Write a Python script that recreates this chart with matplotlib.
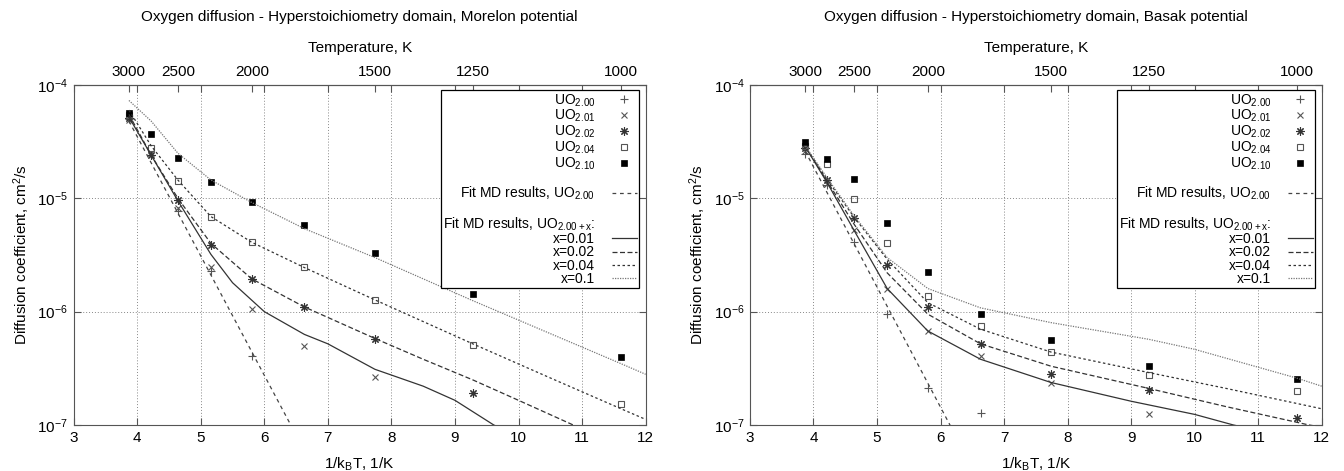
import numpy as np
import matplotlib
matplotlib.use("Agg")
from matplotlib import pyplot as plt
from matplotlib.lines import Line2D

plt.rcParams['font.family'] = ['Liberation Sans', 'DejaVu Sans']
plt.rcParams['mathtext.default'] = 'regular'
plt.rcParams['axes.unicode_minus'] = False

kB = 8.617e-5  # eV/K

# temperatures of the MD points, K
temps = np.array([3000, 2750, 2500, 2250, 2000, 1750, 1500, 1250, 1000])
nan = np.nan

# Morelon potential, D in cm2/s
m_uo200 = [5.0e-5, 2.4e-5, 7.8e-6, 2.3e-6, 4.1e-7, nan, nan, nan, nan]
m_uo201 = [4.9e-5, 2.5e-5, 8.2e-6, 2.5e-6, 1.05e-6, 5.0e-7, 2.65e-7, nan, nan]
m_uo202 = [5.1e-5, 2.4e-5, 9.7e-6, 3.9e-6, 1.95e-6, 1.1e-6, 5.7e-7, 1.9e-7, nan]
m_uo204 = [5.4e-5, 2.8e-5, 1.42e-5, 6.9e-6, 4.1e-6, 2.46e-6, 1.27e-6, 5.1e-7, 1.54e-7]
m_uo210 = [5.7e-5, 3.7e-5, 2.25e-5, 1.4e-5, 9.2e-6, 5.8e-6, 3.3e-6, 1.42e-6, 4.0e-7]

# Morelon fits (x = 1/kBT, D)
m_fit00_x = [3.87, 6.6]
m_fit00_d = [4.8e-5, 6.4e-8]
m_fit01_x = [3.87, 4.22, 4.64, 5.16, 5.5, 6.0, 6.63, 7.0, 7.74, 8.5, 9.0, 9.61, 10.0]
m_fit01_d = [5.2e-5, 2.4e-5, 9.5e-6, 3.2e-6, 1.8e-6, 1.0e-6, 6.3e-7, 5.2e-7, 3.1e-7, 2.2e-7, 1.65e-7, 1.0e-7, 8.0e-8]
m_fit02_x = [3.87, 4.22, 4.64, 5.16, 5.8, 6.63, 7.74, 8.5, 9.28, 10.0, 10.86, 11.2]
m_fit02_d = [5.5e-5, 2.4e-5, 1.0e-5, 4.0e-6, 1.95e-6, 1.1e-6, 5.8e-7, 3.8e-7, 2.5e-7, 1.65e-7, 1.0e-7, 8.2e-8]
m_fit04_x = [3.87, 4.22, 4.64, 5.16, 5.8, 6.63, 7.74, 9.28, 10.5, 11.6, 12.0]
m_fit04_d = [6.0e-5, 2.9e-5, 1.45e-5, 6.9e-6, 4.1e-6, 2.45e-6, 1.27e-6, 5.2e-7, 2.6e-7, 1.4e-7, 1.12e-7]
m_fit10_x = [3.87, 4.22, 4.64, 5.16, 5.8, 6.63, 7.74, 9.28, 10.5, 11.6, 12.0]
m_fit10_d = [7.3e-5, 4.8e-5, 2.5e-5, 1.45e-5, 9.2e-6, 5.4e-6, 3.0e-6, 1.25e-6, 6.4e-7, 3.5e-7, 2.8e-7]

# Basak potential
b_uo200 = [2.46e-5, 1.3e-5, 4.1e-6, 9.6e-7, 2.1e-7, 1.27e-7, nan, nan, nan]
b_uo201 = [2.6e-5, 1.35e-5, 5.2e-6, 1.6e-6, 6.75e-7, 4.06e-7, 2.37e-7, 1.26e-7, nan]
b_uo202 = [2.76e-5, 1.45e-5, 6.75e-6, 2.6e-6, 1.1e-6, 5.15e-7, 2.84e-7, 2.02e-7, 1.16e-7]
b_uo204 = [2.9e-5, 2.0e-5, 9.9e-6, 4.0e-6, 1.37e-6, 7.4e-7, 4.44e-7, 2.74e-7, 2.0e-7]
b_uo210 = [3.12e-5, 2.21e-5, 1.48e-5, 6.0e-6, 2.26e-6, 9.6e-7, 5.6e-7, 3.32e-7, 2.56e-7]

b_fit00_x = [3.87, 6.3]
b_fit00_d = [2.6e-5, 6.9e-8]
b_fit01_x = [3.87, 4.22, 4.64, 5.16, 5.8, 6.63, 7.74, 9.0, 10.0, 10.61, 11.0]
b_fit01_d = [2.86e-5, 1.36e-5, 5.2e-6, 1.6e-6, 6.75e-7, 3.8e-7, 2.37e-7, 1.62e-7, 1.24e-7, 1.0e-7, 9.0e-8]
b_fit02_x = [3.87, 4.22, 4.64, 5.16, 5.8, 6.63, 7.74, 9.28, 10.5, 11.8, 12.0]
b_fit02_d = [2.86e-5, 1.4e-5, 5.9e-6, 2.2e-6, 9.5e-7, 5.2e-7, 3.3e-7, 2.1e-7, 1.45e-7, 1.0e-7, 9.6e-8]
b_fit04_x = [3.87, 4.22, 4.64, 5.16, 5.8, 6.63, 7.74, 9.28, 10.5, 12.0]
b_fit04_d = [2.86e-5, 1.45e-5, 6.8e-6, 2.9e-6, 1.2e-6, 7.0e-7, 4.4e-7, 2.9e-7, 2.1e-7, 1.39e-7]
b_fit10_x = [3.87, 4.22, 4.64, 5.16, 5.8, 6.63, 7.74, 9.28, 10.0, 11.6, 12.0]
b_fit10_d = [2.9e-5, 1.5e-5, 7.0e-6, 3.0e-6, 1.6e-6, 1.08e-6, 8.0e-7, 5.7e-7, 4.65e-7, 2.6e-7, 2.2e-7]

top_temps = [3000, 2500, 2000, 1500, 1250, 1000]
comp_labels = ['UO$_{2.00}$', 'UO$_{2.01}$', 'UO$_{2.02}$', 'UO$_{2.04}$', 'UO$_{2.10}$']
x_labels = ['x=0.01', 'x=0.02', 'x=0.04', 'x=0.1']

inv_kt = 1.0 / (kB * temps)

frame_c = '#555555'
mk = [dict(marker='+', ms=6, color='#555555', mew=0.8),
      dict(marker='x', ms=5, color='#555555', mew=0.8),
      dict(marker=(8, 2, 0), ms=6, color='#333333', mew=0.8),
      dict(marker='s', ms=5, mfc='none', mec='#555555', mew=0.8),
      dict(marker='s', ms=5, color='black', mew=0.5)]
fit_styles = [dict(color='#333333', lw=0.9, ls='-'),
              dict(color='#333333', lw=0.9, ls=(0, (4, 2))),
              dict(color='#333333', lw=0.9, ls=(0, (2, 2))),
              dict(color='#777777', lw=0.9, ls=(0, (1, 1)))]
fit00_style = dict(color='#444444', lw=0.9, ls=(0, (3, 3)))


def draw(ax, title, series, fit00, fits):
    handles = []
    for vals, kw, lab in zip(series, mk, comp_labels):
        h, = ax.plot(inv_kt, vals, ls='none', label=lab, **kw)
        handles.append(h)
    blank = Line2D([], [], ls='none', label=' ')
    h00, = ax.plot(fit00[0], fit00[1], label='Fit MD results, UO$_{2.00}$', **fit00_style)
    head = Line2D([], [], ls='none', label='Fit MD results, UO$_{2.00+x}$:')
    fh = []
    for (fx, fd), st, lab in zip(fits, fit_styles, x_labels):
        h, = ax.plot(fx, fd, label=lab, **st)
        fh.append(h)
    handles = handles + [blank, h00, Line2D([], [], ls='none', label=' '), head] + fh

    ax.set_yscale('log')
    ax.set_xlim(3, 12)
    ax.set_ylim(1e-7, 1e-4)
    ax.set_xticks(range(3, 13))
    ax.set_yticks([1e-7, 1e-6, 1e-5, 1e-4])
    ax.yaxis.set_minor_locator(matplotlib.ticker.NullLocator())
    ax.grid(True, color='#888888', ls=(0, (1, 2)), lw=0.7)
    ax.tick_params(direction='in', length=5, width=0.8, color=frame_c, labelsize=11,
                   top=True, right=True, pad=4)
    for s in ax.spines.values():
        s.set_color(frame_c)
    ax.set_xlabel('1/k$_B$T, 1/K', fontsize=11, labelpad=8)
    ax.set_ylabel('Diffusion coefficient, cm$^2$/s', fontsize=11)

    sec = ax.secondary_xaxis('top', functions=(lambda x: 1.0 / (kB * x), lambda t: 1.0 / (kB * t)))
    sec.set_xticks(top_temps)
    sec.set_xticklabels([str(t) for t in top_temps])
    sec.tick_params(direction='in', length=5, width=0.8, color=frame_c, labelsize=11, pad=4)
    sec.xaxis.set_minor_locator(matplotlib.ticker.NullLocator())
    sec.spines['top'].set_color(frame_c)
    sec.set_xlabel('Temperature, K', fontsize=11, labelpad=10)
    ax.set_title(title, fontsize=11, pad=14)

    leg = ax.legend(handles=handles, loc='upper right', bbox_to_anchor=(0.988, 0.985),
                    borderaxespad=0, markerfirst=False, fancybox=False, framealpha=1,
                    edgecolor='black', fontsize=10, labelspacing=-0.04, handlelength=1.8,
                    handletextpad=1.2, borderpad=0.15)
    leg.get_frame().set_linewidth(0.9)


fig = plt.figure(figsize=(13.44, 4.71), dpi=100)
ax0 = fig.add_axes([0.0548, 0.0977, 0.4256, 0.7219])
ax1 = fig.add_axes([0.558, 0.0977, 0.4254, 0.7219])

draw(ax0, 'Oxygen diffusion - Hyperstoichiometry domain, Morelon potential',
     [m_uo200, m_uo201, m_uo202, m_uo204, m_uo210],
     (m_fit00_x, m_fit00_d),
     [(m_fit01_x, m_fit01_d), (m_fit02_x, m_fit02_d), (m_fit04_x, m_fit04_d), (m_fit10_x, m_fit10_d)])
draw(ax1, 'Oxygen diffusion - Hyperstoichiometry domain, Basak potential',
     [b_uo200, b_uo201, b_uo202, b_uo204, b_uo210],
     (b_fit00_x, b_fit00_d),
     [(b_fit01_x, b_fit01_d), (b_fit02_x, b_fit02_d), (b_fit04_x, b_fit04_d), (b_fit10_x, b_fit10_d)])

fig.savefig('out.png', dpi=100)
